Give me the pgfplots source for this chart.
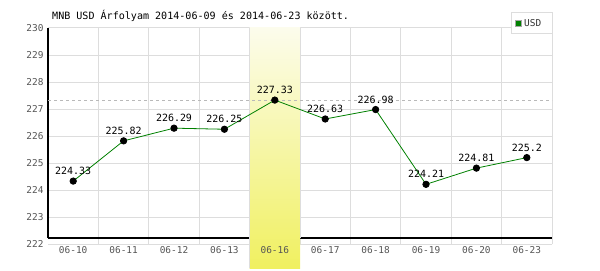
\documentclass[border=0pt]{standalone}
\usepackage{fontspec}
\setmainfont{DejaVu Sans Mono}
\usepackage{pgfplots}
\pgfplotsset{compat=1.18}
\definecolor{gridc}{HTML}{DDDDDD}
\definecolor{lgreen}{HTML}{008000}
\definecolor{tickc}{HTML}{555555}
\definecolor{hltop}{HTML}{FCFCEC}
\definecolor{hlbot}{HTML}{F0F060}
\pgfplotstableread{
x y label
0 224.33 224.33
1 225.82 225.82
2 226.29 226.29
3 226.25 226.25
4 227.33 227.33
5 226.63 226.63
6 226.98 226.98
7 224.21 224.21
8 224.81 224.81
9 225.2 225.2
}\usd
\begin{document}
\begin{tikzpicture}[x=1bp,y=1bp]
\useasboundingbox (0,0) rectangle (600,270);
\node[anchor=base west, inner sep=0, font=\fontsize{10.1}{12}\selectfont] at (52,251) {MNB USD Árfolyam 2014-06-09 és 2014-06-23 között.};
\begin{axis}[
  at={(48bp,26bp)}, anchor=south west,
  scale only axis, width=504bp, height=216bp,
  xmin=-0.5, xmax=9.5, ymin=222, ymax=230,
  clip=false,
  axis line style={draw=none},
  major tick length=0, minor tick length=0,
  xtick={0,...,9},
  xticklabels={06-10,06-11,06-12,06-13,06-16,06-17,06-18,06-19,06-20,06-23},
  minor xtick={0.5,1.5,2.5,3.5,4.5,5.5,6.5,7.5,8.5,9.5},
  ytick={222,223,...,230},
  xminorgrids=true, ymajorgrids=true,
  grid style={gridc, line width=1bp},
  minor grid style={gridc, line width=1bp},
  /pgf/number format/assume math mode=true,
  ticklabel style={font=\fontsize{9.5}{11}\selectfont, text=tickc},
  yticklabel style={xshift=-1bp},
  xticklabel style={yshift=1.5bp},
]
\draw[black, line width=1.3bp] (axis cs:-0.5,222.22) -- (axis cs:9.5,222.22);
\draw[black, line width=1.3bp] (axis cs:-0.5,222.22) -- (axis cs:-0.5,230);
\fill[top color=hltop, bottom color=hlbot] (axis cs:3.5,221.1) rectangle (axis cs:4.5,230);
\draw[gridc, line width=1bp] (axis cs:3.5,221.1) -- (axis cs:3.5,230);
\draw[gridc, line width=1bp] (axis cs:4.5,222.22) -- (axis cs:4.5,230);
\node[anchor=north, yshift=1.5bp, font=\fontsize{9.5}{11}\selectfont, text=tickc] at (axis cs:4,222) {06-16};
\draw[gray!55, dash pattern=on 3bp off 3bp, line width=0.8bp] (axis cs:-0.5,227.33) -- (axis cs:9.5,227.33);
\addplot[lgreen, line width=0.8bp, mark=*, mark size=3.2bp,
  mark options={draw=black, fill=black},
  nodes near coords, point meta=explicit symbolic,
  every node near coord/.style={font=\fontsize{10}{12}\selectfont, text=black, anchor=south, yshift=5bp, inner sep=1bp}]
  table[x=x, y=y, meta=label] {\usd};
\end{axis}
\draw[gridc, line width=1bp, fill=white] (511,237) rectangle (552,257);
\fill[lgreen, draw=gray!70, line width=0.6bp] (515.5,243.5) rectangle (521.5,249.5);
\node[anchor=west, inner sep=0, font=\fontsize{9.5}{11}\selectfont, text=black!80] at (524,246.5) {USD};
\end{tikzpicture}
\end{document}
